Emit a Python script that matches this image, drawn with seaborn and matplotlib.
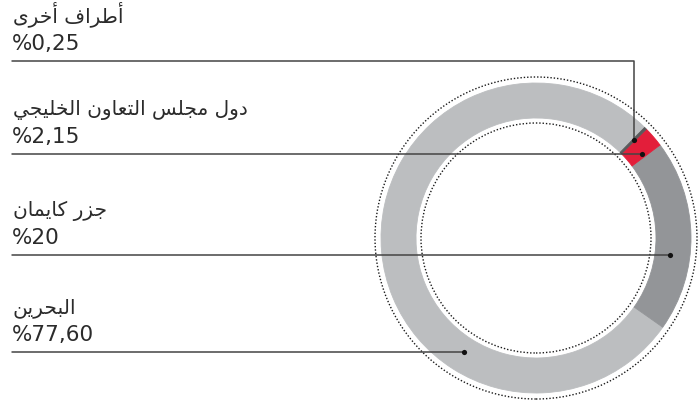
import numpy as np
import matplotlib
matplotlib.use("Agg")
import matplotlib.pyplot as plt
from matplotlib.patches import Circle
import seaborn as sns

# data (ring order: counter-clockwise starting with Bahrain)
categories = ["البحرين", "جزر كايمان", "دول مجلس التعاون الخليجي", "أطراف أخرى"]
shares = [77.60, 20.0, 2.15, 0.25]
share_labels = ["%77,60", "%20", "%2,15", "%0,25"]
colors = ["#bcbec0", "#939598", "#e31e3a", "#58595b"]

# matplotlib has no arabic shaping -> map letters to presentation forms
FORMS = {
    "ا": ("\uFE8D", "\uFE8E"), "أ": ("\uFE83", "\uFE84"),
    "د": ("\uFEA9", "\uFEAA"), "ر": ("\uFEAD", "\uFEAE"),
    "ز": ("\uFEAF", "\uFEB0"), "و": ("\uFEED", "\uFEEE"),
    "ى": ("\uFEEF", "\uFEF0"),
    "ب": ("\uFE8F", "\uFE90", "\uFE91", "\uFE92"),
    "ت": ("\uFE95", "\uFE96", "\uFE97", "\uFE98"),
    "ج": ("\uFE9D", "\uFE9E", "\uFE9F", "\uFEA0"),
    "ح": ("\uFEA1", "\uFEA2", "\uFEA3", "\uFEA4"),
    "خ": ("\uFEA5", "\uFEA6", "\uFEA7", "\uFEA8"),
    "س": ("\uFEB1", "\uFEB2", "\uFEB3", "\uFEB4"),
    "ط": ("\uFEC1", "\uFEC2", "\uFEC3", "\uFEC4"),
    "ع": ("\uFEC9", "\uFECA", "\uFECB", "\uFECC"),
    "ف": ("\uFED1", "\uFED2", "\uFED3", "\uFED4"),
    "ك": ("\uFED9", "\uFEDA", "\uFEDB", "\uFEDC"),
    "ل": ("\uFEDD", "\uFEDE", "\uFEDF", "\uFEE0"),
    "م": ("\uFEE1", "\uFEE2", "\uFEE3", "\uFEE4"),
    "ن": ("\uFEE5", "\uFEE6", "\uFEE7", "\uFEE8"),
    "ي": ("\uFEF1", "\uFEF2", "\uFEF3", "\uFEF4"),
}


def shape_arabic(text):
    out = []
    for i, ch in enumerate(text):
        if ch not in FORMS:
            out.append(ch)
            continue
        prev = text[i - 1] if i > 0 else ""
        nxt = text[i + 1] if i + 1 < len(text) else ""
        join_prev = prev in FORMS and len(FORMS[prev]) == 4
        join_next = len(FORMS[ch]) == 4 and nxt in FORMS
        f = FORMS[ch]
        if join_prev and join_next:
            out.append(f[3])
        elif join_prev:
            out.append(f[1])
        elif join_next:
            out.append(f[2])
        else:
            out.append(f[0])
    return "".join(out)[::-1]


W, H = 700, 407
cx, cy = 536, H - 238
r_out, ring_w = 155, 35
start = 45.5

sns.set_theme(style="white")
plt.rcParams["font.family"] = ["DejaVu Sans"]

fig = plt.figure(figsize=(W / 100, H / 100), dpi=100)
ax = fig.add_axes([0, 0, 1, 1])

wedges, _ = ax.pie(shares, colors=colors, startangle=start, counterclock=True,
                   center=(cx, cy), radius=r_out,
                   wedgeprops=dict(width=ring_w, linewidth=0.6))
for w, c in zip(wedges, colors):
    w.set_edgecolor(c)

for r in (r_out + 6, r_out - ring_w - 5):
    ax.add_patch(Circle((cx, cy), r, fill=False, color="#1a1a1a", lw=1.0,
                        ls=(0, (1, 1.4)), zorder=3))

# leaders
line_y = [352, 255, 154, 61]
r_mid = 135
cum = np.concatenate([[0], np.cumsum(shares)])
dots_x, dots_y = [], []
for i, (cat, lab) in enumerate(zip(categories, share_labels)):
    mid = np.deg2rad(start + 3.6 * (cum[i] + cum[i + 1]) / 2)
    ly = H - line_y[i]
    if i == 3:
        dx_, dy_ = cx + 139 * np.cos(mid), cy + 139 * np.sin(mid)
        ax.plot([12, dx_, dx_], [ly, ly, dy_], color="#444444", lw=1.1, zorder=4)
    else:
        dx_ = cx + np.sign(np.cos(mid)) * np.sqrt(r_mid ** 2 - (ly - cy) ** 2)
        dy_ = ly
        ax.plot([12, dx_], [ly, ly], color="#444444", lw=1.1, zorder=4)
    dots_x.append(dx_)
    dots_y.append(dy_)
    ax.text(12, ly + 11, lab, fontsize=15.5, color="#2b2b2b", va="baseline", ha="left")
    ax.text(13, ly + 39, shape_arabic(cat), fontsize=14.5, color="#2b2b2b",
            va="baseline", ha="left")

sns.scatterplot(x=dots_x, y=dots_y, ax=ax, color="#111111", s=14, linewidth=0, zorder=5)

ax.set_xlim(0, W)
ax.set_ylim(0, H)
ax.set_aspect("equal")
ax.axis("off")
fig.savefig("out.png", dpi=100, facecolor="white")
